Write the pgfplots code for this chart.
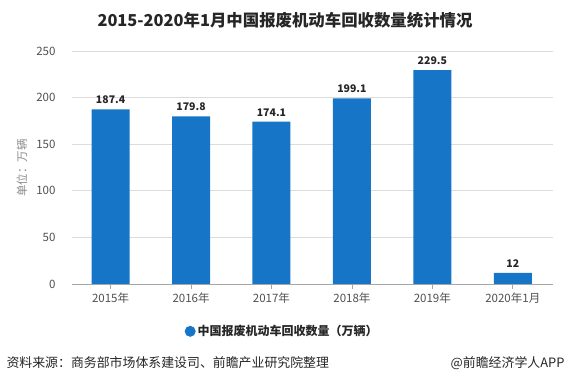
\documentclass[border=0pt]{standalone}
\usepackage{pgfplots}
\pgfplotsset{compat=1.18}
\usepackage{fontspec}
\setmainfont{Noto Sans CJK SC}
\definecolor{barblue}{RGB}{22,117,198}
\definecolor{gridgray}{RGB}{220,220,220}
\definecolor{txtgray}{RGB}{80,80,80}
\begin{document}
\begin{tikzpicture}[x=1pt,y=1pt]
\path[use as bounding box] (0,0) rectangle (569,382);
\node[font=\fontsize{16.4}{19}\selectfont\bfseries, text=black!85] at (285,362) {2015-2020年1月中国报废机动车回收数量统计情况};
\begin{axis}[
  at={(72pt,98pt)}, anchor=south west,
  scale only axis, width=481pt, height=233pt,
  xmin=-0.48, xmax=5.5, ymin=0, ymax=250,
  ytick={0,50,100,150,200,250},
  xtick=data,
  xticklabels={2015年,2016年,2017年,2018年,2019年,2020年1月},
  ymajorgrids, grid style={gridgray, line width=0.6pt},
  axis x line*=bottom, axis y line*=left,
  y axis line style={draw=none},
  ytick style={draw=none},
  x axis line style={draw=gray!70, line width=0.6pt, -},
  xtick style={draw=gray!70, line width=0.6pt},
  major tick length=5pt,
  tick align=outside,
  ticklabel style={font=\fontsize{11.5}{13}\selectfont, text=txtgray},
  yticklabel style={xshift=-8pt},
  /pgf/number format/assume math mode=true,
  ybar, bar width=38pt,
  nodes near coords,
  every node near coord/.append style={font=\fontsize{10.5}{12}\selectfont\bfseries, text=black!85, yshift=2pt},
  legend style={at={(0.437,-0.203)}, anchor=center, draw=none, fill=none,
    font=\fontsize{12}{14}\selectfont\bfseries, text=black!85},
  legend image code/.code={\fill[barblue] (0.1cm,0cm) circle (5.5pt);},
]
\addplot[fill=barblue, draw=none] coordinates {(0,187.4) (1,179.8) (2,174.1) (3,199.1) (4,229.5) (5,12)};
\addlegendentry{中国报废机动车回收数量（万辆）}
\end{axis}
\node[rotate=90, font=\fontsize{11.5}{13}\selectfont, text=gray!90] at (22,214) {单位：万辆};
\node[anchor=west, font=\fontsize{12.9}{15}\selectfont, text=black!85] at (3,19) {资料来源：商务部市场体系建设司、前瞻产业研究院整理};
\node[anchor=east, font=\fontsize{12.9}{15}\selectfont, text=black!85] at (568,19) {@前瞻经济学人APP};
\end{tikzpicture}
\end{document}
